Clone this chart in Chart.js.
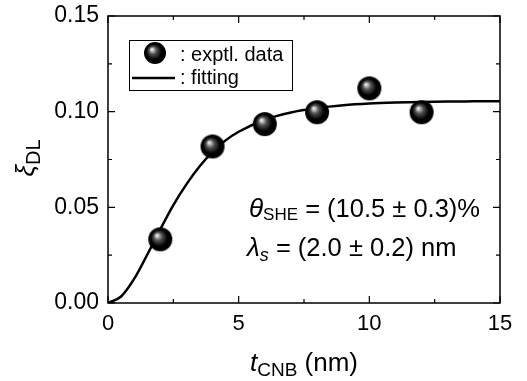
<!DOCTYPE html>
<html>
<head>
<meta charset="utf-8">
<script src="https://cdn.jsdelivr.net/npm/chart.js@4"></script>
<style>
  html, body { margin: 0; padding: 0; background: #fff; }
  #wrap { width: 527px; height: 381px; }
</style>
</head>
<body>
<div id="wrap"><canvas id="myChart" width="527" height="381"></canvas></div>
<script>
// measured points
var thickness = [2, 4, 6, 8, 10, 12];
var xiDL = [0.0333, 0.0818, 0.0935, 0.0997, 0.1122, 0.0997];

// fitting curve
var fitT = [0, 0.5, 1, 1.5, 2, 2.5, 3, 3.5, 4, 4.5, 5, 6, 7, 8, 9, 10, 11, 12, 13, 14, 15];
var fitXi = [0, 0.0034, 0.0126, 0.0252, 0.0385, 0.0512, 0.0620, 0.0713, 0.0790, 0.0850, 0.0895,
             0.0958, 0.0996, 0.1019, 0.1034, 0.1043, 0.1048, 0.1051, 0.1053, 0.1054, 0.1055];

var xTicks = [0, 5, 10, 15];
var yTicks = [0, 0.05, 0.10, 0.15];

var FONT = '"Liberation Sans", Arial, sans-serif';

// shiny black ball used as the marker
function makeBall(r) {
    var c = document.createElement('canvas');
    c.width = r * 2 + 2; c.height = r * 2 + 2;
    var g = c.getContext('2d');
    var cx = r + 1, cy = r + 1;
    var grad = g.createRadialGradient(cx - r * 0.3, cy - r * 0.35, 0, cx, cy, r);
    grad.addColorStop(0, '#ffffff');
    grad.addColorStop(0.12, '#c8c8c8');
    grad.addColorStop(0.35, '#505050');
    grad.addColorStop(0.7, '#000000');
    grad.addColorStop(1, '#000000');
    g.fillStyle = grad;
    g.beginPath();
    g.arc(cx, cy, r, 0, Math.PI * 2);
    g.fill();
    return c;
}
var ball = makeBall(12);
var smallBall = makeBall(11);

function richText(c, parts, x, y) {
    // parts: [text, size, italic, dy]
    parts.forEach(function (p) {
        c.font = (p[2] ? 'italic ' : '') + p[1] + 'px ' + FONT;
        c.fillText(p[0], x, y + (p[3] || 0));
        x += c.measureText(p[0]).width;
    });
    return x;
}

function richWidth(c, parts) {
    var w = 0;
    parts.forEach(function (p) {
        c.font = (p[2] ? 'italic ' : '') + p[1] + 'px ' + FONT;
        w += c.measureText(p[0]).width;
    });
    return w;
}

var framePlugin = {
    id: 'frame',
    afterDraw: function (chart) {
        var c = chart.ctx, a = chart.chartArea;
        var xs = chart.scales.x, ys = chart.scales.y;
        c.save();
        c.strokeStyle = '#000';
        c.lineWidth = 1.5;
        c.strokeRect(a.left, a.top, a.right - a.left, a.bottom - a.top);
        c.lineWidth = 1.2;
        c.beginPath();
        [0, 2.5, 5, 7.5, 10, 12.5, 15].forEach(function (v) {
            var px = xs.getPixelForValue(v);
            var len = (v % 5 === 0) ? 7 : 4;
            c.moveTo(px, a.bottom); c.lineTo(px, a.bottom - len);
            c.moveTo(px, a.top); c.lineTo(px, a.top + len);
        });
        [0, 0.025, 0.05, 0.075, 0.1, 0.125, 0.15].forEach(function (v, i) {
            var py = ys.getPixelForValue(v);
            var len = (i % 2 === 0) ? 7 : 4;
            c.moveTo(a.left, py); c.lineTo(a.left + len, py);
            c.moveTo(a.right, py); c.lineTo(a.right - len, py);
        });
        c.stroke();

        // legend
        c.fillStyle = '#fff';
        c.fillRect(129, 40, 164, 51);
        c.lineWidth = 1;
        c.strokeRect(129.5, 40.5, 163, 50);
        c.drawImage(smallBall, 155 - 12, 53 - 12);
        c.lineWidth = 2.5;
        c.beginPath(); c.moveTo(132, 78); c.lineTo(175, 78); c.stroke();
        c.fillStyle = '#000';
        c.textBaseline = 'alphabetic';
        c.textAlign = 'left';
        c.font = '20px ' + FONT;
        c.fillText(': exptl. data', 180, 61);
        c.fillText(': fitting', 180, 84);

        // fit parameters
        richText(c, [['\u03b8', 26, true], ['SHE', 17, false, 3], [' = (10.5 \u00b1 0.3)%', 25.5, false]], 249, 217);
        richText(c, [['\u03bb', 26, true], ['s', 18, true, 5], [' = (2.0 \u00b1 0.2) nm', 25.5, false]], 247, 256);

        // x title
        var xt = [['t', 26, true], ['CNB', 19, false, 5], [' (nm)', 26, false]];
        richText(c, xt, (a.left + a.right) / 2 - richWidth(c, xt) / 2, 371);

        // y title
        c.translate(34, 158);
        c.rotate(-Math.PI / 2);
        var yt = [['\u03be', 26, true], ['DL', 20, false, 6]];
        richText(c, yt, -richWidth(c, yt) / 2, 0);
        c.restore();
    }
};

new Chart(document.getElementById('myChart'), {
    type: 'scatter',
    data: {
        datasets: [{
            label: 'fitting',
            type: 'line',
            data: fitT.map(function (t, i) { return { x: t, y: fitXi[i] }; }),
            borderColor: '#000',
            borderWidth: 2.5,
            pointRadius: 0,
            cubicInterpolationMode: 'monotone',
            fill: false,
            order: 2
        }, {
            label: 'exptl. data',
            data: thickness.map(function (t, i) { return { x: t, y: xiDL[i] }; }),
            pointStyle: ball,
            pointRadius: 12,
            order: 1
        }]
    },
    options: {
        responsive: false,
        animation: false,
        layout: { padding: { left: 0, right: 27, top: 16, bottom: 0 } },
        plugins: { legend: { display: false }, tooltip: { enabled: false } },
        scales: {
            x: {
                type: 'linear', min: 0, max: 15,
                grid: { display: false, drawTicks: false },
                border: { display: false },
                afterFit: function (s) { s.height = 78; s.paddingLeft = 0; s.paddingRight = 0; },
                afterBuildTicks: function (s) { s.ticks = xTicks.map(function (v) { return { value: v }; }); },
                ticks: { color: '#000', padding: 8, font: { family: FONT, size: 22 }, maxRotation: 0 }
            },
            y: {
                type: 'linear', min: 0, max: 0.15,
                grid: { display: false, drawTicks: false },
                border: { display: false },
                afterFit: function (s) { s.width = 108; s.paddingTop = 0; s.paddingBottom = 0; },
                afterBuildTicks: function (s) { s.ticks = yTicks.map(function (v) { return { value: v }; }); },
                ticks: {
                    color: '#000', padding: 9, font: { family: FONT, size: 23 },
                    callback: function (v) { return v.toFixed(2); }
                }
            }
        }
    },
    plugins: [framePlugin]
});
</script>
</body>
</html>
